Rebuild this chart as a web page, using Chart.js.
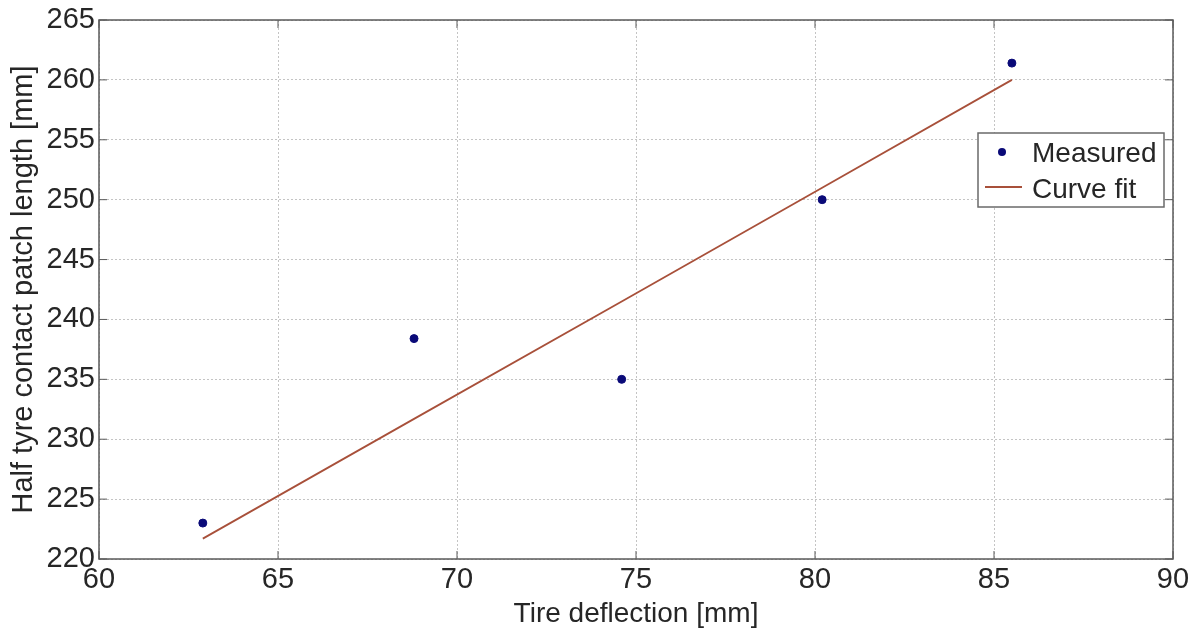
<!DOCTYPE html>
<html>
<head>
<meta charset="utf-8">
<script src="https://cdn.jsdelivr.net/npm/chart.js@4/dist/chart.umd.min.js"></script>
<style>
  html, body { margin: 0; padding: 0; background: #fff; }
  #wrap { width: 1199px; height: 628px; }
</style>
</head>
<body>
<div id="wrap"><canvas id="c"></canvas></div>
<script>
// Measured points (tire deflection [mm], half contact patch length [mm])
const measuredX = [62.9, 68.8, 74.6, 80.2, 85.5];
const measuredY = [223.0, 238.4, 235.0, 250.0, 261.4];
// Curve fit evaluated at the measured deflections
const fitX = [62.9, 68.8, 74.6, 80.2, 85.5];
const fitY = [221.7, 231.7, 241.5, 251.0, 260.0];

const xTicks = [60, 65, 70, 75, 80, 85, 90];
const yTicks = [220, 225, 230, 235, 240, 245, 250, 255, 260, 265];

const FONT = '"Liberation Sans", Arial, sans-serif';
const textColor = '#262626';
const pointColor = '#0a0a78';
const lineColor = '#a8503a';

// MATLAB-like box, inward ticks and legend inside the axes
const matlabBox = {
  id: 'matlabBox',
  afterDraw(chart) {
    const { ctx, chartArea: a, scales } = chart;
    ctx.save();
    ctx.strokeStyle = '#5a5a5a';
    ctx.lineWidth = 1.5;
    ctx.strokeRect(a.left, a.top, a.right - a.left, a.bottom - a.top);
    ctx.lineWidth = 1;
    xTicks.forEach(v => {
      const px = scales.x.getPixelForValue(v);
      ctx.beginPath();
      ctx.moveTo(px, a.bottom); ctx.lineTo(px, a.bottom - 8);
      ctx.moveTo(px, a.top); ctx.lineTo(px, a.top + 8);
      ctx.stroke();
    });
    yTicks.forEach(v => {
      const py = scales.y.getPixelForValue(v);
      ctx.beginPath();
      ctx.moveTo(a.left, py); ctx.lineTo(a.left + 8, py);
      ctx.moveTo(a.right, py); ctx.lineTo(a.right - 8, py);
      ctx.stroke();
    });

    // legend
    const lx = 978, ly = 133, lw = 186, lh = 74;
    ctx.fillStyle = '#fff';
    ctx.fillRect(lx, ly, lw, lh);
    ctx.strokeStyle = '#6a6a6a';
    ctx.lineWidth = 1.5;
    ctx.strokeRect(lx, ly, lw, lh);
    const ds = chart.data.datasets;
    ctx.font = '28px ' + FONT;
    ctx.textBaseline = 'middle';
    // measured
    ctx.beginPath();
    ctx.fillStyle = ds[0].backgroundColor;
    ctx.arc(lx + 24, ly + 19, 4, 0, Math.PI * 2);
    ctx.fill();
    ctx.fillStyle = textColor;
    ctx.fillText(ds[0].label, lx + 54, ly + 21);
    // curve fit
    ctx.strokeStyle = ds[1].borderColor;
    ctx.lineWidth = 1.8;
    ctx.beginPath();
    ctx.moveTo(lx + 7, ly + 54); ctx.lineTo(lx + 44, ly + 54);
    ctx.stroke();
    ctx.fillText(ds[1].label, lx + 54, ly + 57);
    ctx.restore();
  }
};

new Chart(document.getElementById('c'), {
  type: 'scatter',
  data: {
    datasets: [
      {
        label: 'Measured',
        data: measuredX.map((x, i) => ({ x, y: measuredY[i] })),
        backgroundColor: pointColor,
        borderColor: pointColor,
        pointRadius: 4,
        pointHoverRadius: 4,
        showLine: false,
        order: 1
      },
      {
        label: 'Curve fit',
        data: fitX.map((x, i) => ({ x, y: fitY[i] })),
        borderColor: lineColor,
        backgroundColor: lineColor,
        borderWidth: 1.8,
        pointRadius: 0,
        showLine: true,
        order: 2
      }
    ]
  },
  options: {
    responsive: true,
    maintainAspectRatio: false,
    animation: false,
    layout: { padding: { top: 20, right: 26, left: 0, bottom: 0 } },
    plugins: {
      legend: { display: false },
      tooltip: { enabled: false }
    },
    scales: {
      x: {
        type: 'linear',
        min: 60,
        max: 90,
        afterBuildTicks: s => { s.ticks = xTicks.map(v => ({ value: v })); },
        afterFit: s => { s.height = 69; },
        grid: { color: '#c4c4c4', lineWidth: 1, drawTicks: false },
        border: { display: false, dash: [2, 2] },
        ticks: { color: textColor, padding: 6, font: { family: FONT, size: 29, lineHeight: 1 } },
        title: {
          display: true,
          text: 'Tire deflection [mm]',
          color: textColor,
          padding: { top: 3, bottom: 0 },
          font: { family: FONT, size: 28, lineHeight: 1 }
        }
      },
      y: {
        type: 'linear',
        min: 220,
        max: 265,
        afterBuildTicks: s => { s.ticks = yTicks.map(v => ({ value: v })); },
        afterFit: s => { s.width = 99; },
        grid: { color: '#c4c4c4', lineWidth: 1, drawTicks: false },
        border: { display: false, dash: [2, 2] },
        ticks: { color: textColor, padding: 4, font: { family: FONT, size: 29, lineHeight: 1 } },
        title: {
          display: true,
          text: 'Half tyre contact patch length [mm]',
          color: textColor,
          padding: { top: 9, bottom: 0 },
          font: { family: FONT, size: 29, lineHeight: 1 }
        }
      }
    }
  },
  plugins: [matlabBox]
});
</script>
</body>
</html>
